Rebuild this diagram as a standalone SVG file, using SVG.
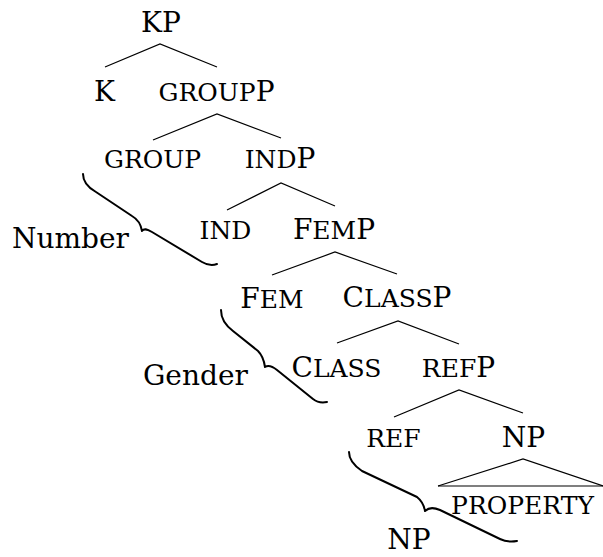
<svg xmlns="http://www.w3.org/2000/svg" width="603" height="557" viewBox="0 0 603 557">
  <style>
    text { font-family: "DejaVu Serif", "Liberation Serif", serif; font-size: 28px; fill: #000; }
    .lbl { text-anchor: middle; }
    .sc { font-size: 25px; }
    .edge { stroke: #000; stroke-width: 1.2; fill: none; }
    .brace { stroke: #000; stroke-width: 2; fill: none; stroke-linecap: round; stroke-linejoin: round; }
  </style>
  <rect width="603" height="557" fill="#fff"/>

  <!-- tree branches -->
  <g id="connectors">
    <polyline class="edge" points="105,67 160,44 217,67"/>
    <polyline class="edge" points="153,140 217,114 281,138"/>
    <polyline class="edge" points="227,210 281,183 335,206"/>
    <polyline class="edge" points="272,275 335,252 397,274"/>
    <polyline class="edge" points="337,343 398,321 459,344"/>
    <polyline class="edge" points="394,417 459,390 523,413"/>
    <polyline class="edge" points="438,486 523,459 603,486"/>
    <line class="edge" x1="438" y1="486" x2="605" y2="486"/>
  </g>

  <!-- nodes -->
  <g id="KP"><text class="lbl" x="161" y="32">KP</text></g>
  <g id="K"><text class="lbl" x="104.5" y="101">K</text></g>
  <g id="GROUPP"><text class="lbl" x="216.5" y="101"><tspan class="sc">GROUP</tspan>P</text></g>
  <g id="GROUP"><text class="lbl sc" x="152.5" y="168">GROUP</text></g>
  <g id="INDP"><text class="lbl" x="280" y="168"><tspan class="sc">IND</tspan>P</text></g>
  <g id="IND"><text class="lbl sc" x="225.5" y="239">IND</text></g>
  <g id="FEMP"><text class="lbl" x="334" y="239">F<tspan class="sc">EM</tspan>P</text></g>
  <g id="FEM"><text class="lbl" x="272" y="308">F<tspan class="sc">EM</tspan></text></g>
  <g id="CLASSP"><text class="lbl" x="397" y="307">C<tspan class="sc">LASS</tspan>P</text></g>
  <g id="CLASS"><text class="lbl" x="336.5" y="377">C<tspan class="sc">LASS</tspan></text></g>
  <g id="REFP"><text class="lbl" x="458.5" y="377"><tspan class="sc">REF</tspan>P</text></g>
  <g id="REF"><text class="lbl sc" x="393.5" y="447">REF</text></g>
  <g id="NP"><text class="lbl" x="523.5" y="447">NP</text></g>
  <g id="PROPERTY"><text class="lbl sc" x="522.5" y="514">PROPERTY</text></g>

  <!-- bracketed spans with their labels -->
  <g id="number-span">
    <path class="brace" d="M83,174 C83,181 87,187 96,192 L132,216 C139,220 141,225 142,231 C144,228 147,229 152,232 L202,262 C207,265 212,266 217,264"/>
    <text x="12" y="248">Number</text>
  </g>
  <g id="gender-span">
    <path class="brace" d="M221,310 C221,318 225,325 233,331 L258,351 C262,355 264,360 265,367 C268,365 272,366 277,370 L313,399 C318,403 322,403 327,402"/>
    <text x="143" y="385">Gender</text>
  </g>
  <g id="np-span">
    <path class="brace" d="M349,452 C349,459 353,465 362,471 L417,497 C422,501 424,505 425,511 C428,508 433,507 440,510 L500,539 C506,542 511,542 517,541"/>
    <text class="lbl" x="409" y="549">NP</text>
  </g>
</svg>
